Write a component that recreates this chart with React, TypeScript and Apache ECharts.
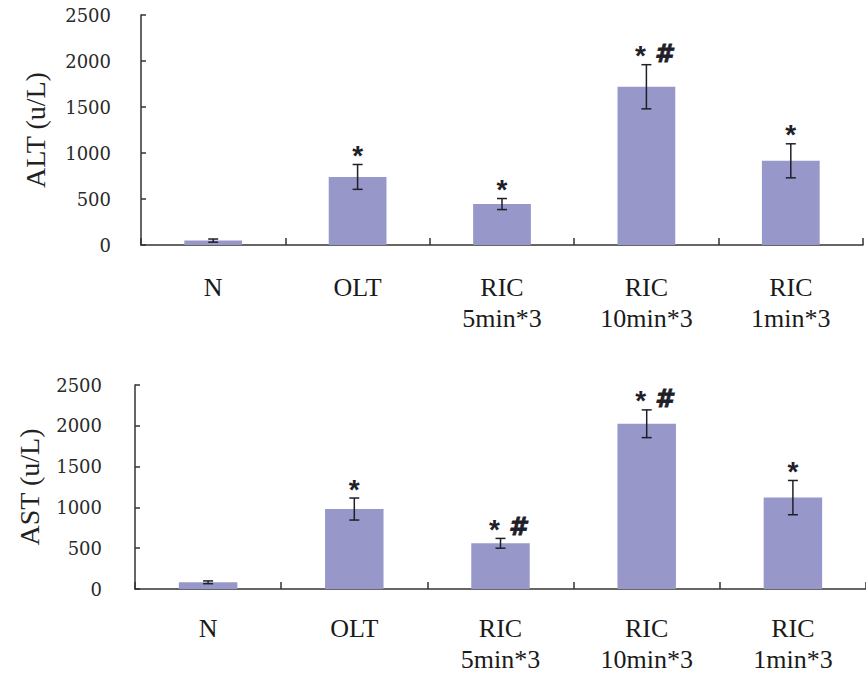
import React, { useEffect, useRef } from "react";
import * as echarts from "echarts";

const categories = ["N", "OLT", "RIC\n5min*3", "RIC\n10min*3", "RIC\n1min*3"];
const altMean = [48, 740, 445, 1720, 915];
const altErr = [17, 135, 60, 240, 185];
const astMean = [82, 980, 560, 2025, 1120];
const astErr = [17, 135, 60, 170, 210];
const altMarks = ["", "*", "*", "*#", "*"];
const astMarks = ["", "*", "*#", "*#", "*"];
const yTicks = [0, 500, 1000, 1500, 2000, 2500];

const BAR_COLOR = "#9797C9";
const INK = "#1f1f2a";

function errorSeries(means: number[], errs: number[], idx: number) {
  return {
    type: "custom",
    xAxisIndex: idx,
    yAxisIndex: idx,
    z: 5,
    data: means.map((m, i) => [i, m, errs[i]]),
    renderItem: (params: any, api: any) => {
      const i = api.value(0);
      const m = api.value(1);
      const e = api.value(2);
      const top = api.coord([i, m + e]);
      const bot = api.coord([i, m - e]);
      const hw = 5;
      const st = { stroke: INK, lineWidth: 1.5 };
      return {
        type: "group",
        children: [
          { type: "line", shape: { x1: top[0], y1: top[1], x2: bot[0], y2: bot[1] }, style: st },
          { type: "line", shape: { x1: top[0] - hw, y1: top[1], x2: top[0] + hw, y2: top[1] }, style: st },
          { type: "line", shape: { x1: bot[0] - hw, y1: bot[1], x2: bot[0] + hw, y2: bot[1] }, style: st },
        ],
      };
    },
  };
}

function markSeries(means: number[], errs: number[], marks: string[], idx: number) {
  return {
    type: "custom",
    xAxisIndex: idx,
    yAxisIndex: idx,
    z: 6,
    data: means.map((m, i) => [i, m + errs[i]]),
    renderItem: (params: any, api: any) => {
      const i = api.value(0);
      const v = api.value(1);
      const p = api.coord([i, v]);
      const mk = marks[params.dataIndex] || "";
      const children: any[] = [];
      const hasHash = mk.indexOf("#") >= 0;
      if (mk.indexOf("*") >= 0) {
        children.push({
          type: "text",
          x: p[0] + (hasHash ? -6 : 0),
          y: p[1] + 5,
          style: {
            text: "*",
            fontSize: 28,
            fontWeight: "bold",
            fontFamily: "Liberation Sans, Arial, sans-serif",
            fill: INK,
            align: "center",
            verticalAlign: "bottom",
          },
        });
      }
      if (hasHash) {
        children.push({
          type: "text",
          x: p[0] + 17,
          y: p[1] + 1,
          style: {
            text: "#",
            fontSize: 25,
            fontWeight: "bold",
            fontStyle: "italic",
            fontFamily: "DejaVu Sans, sans-serif",
            fill: INK,
            stroke: INK,
            lineWidth: 0.8,
            align: "center",
            verticalAlign: "bottom",
          },
        });
      }
      return { type: "group", children };
    },
  };
}

function yAxisDef(idx: number, name: string, margin: number) {
  return {
    type: "value",
    gridIndex: idx,
    min: 0,
    max: 2500,
    interval: 500,
    name,
    nameLocation: "middle",
    nameGap: 92,
    nameRotate: 90,
    nameTextStyle: { fontFamily: "Liberation Serif, Times New Roman, serif", fontSize: 28, color: "#222" },
    axisLine: { show: true, lineStyle: { color: "#333", width: 1.5 } },
    axisTick: { show: true, inside: true, length: 5, lineStyle: { color: "#333", width: 1.5 } },
    axisLabel: {
      margin,
      fontFamily: "DejaVu Serif, serif",
      fontSize: 18,
      color: "#2a2a2a",
      formatter: (v: number) => (yTicks.indexOf(v) >= 0 ? String(v) : ""),
    },
    splitLine: { show: false },
  };
}

function xAxisDef(idx: number, margin: number) {
  return {
    type: "category",
    gridIndex: idx,
    data: categories,
    axisLine: { show: true, lineStyle: { color: "#333", width: 1.5 } },
    axisTick: { show: true, inside: true, length: 7, lineStyle: { color: "#333", width: 1.5 } },
    axisLabel: {
      margin,
      interval: 0,
      fontFamily: "Liberation Serif, Times New Roman, serif",
      fontSize: 26,
      lineHeight: 31,
      color: "#1a1a1a",
    },
  };
}

export default function App() {
  const ref = useRef<HTMLDivElement>(null);
  useEffect(() => {
    if (!ref.current) return;
    const chart = echarts.init(ref.current, undefined, { renderer: "svg" });
    chart.setOption({
      animation: false,
      backgroundColor: "#ffffff",
      grid: [
        { left: 141, top: 15, width: 722, height: 230 },
        { left: 135, top: 385, width: 731, height: 213 },
      ],
      xAxis: [xAxisDef(0, 27), xAxisDef(1, 24)],
      yAxis: [yAxisDef(0, "ALT (u/L)", 30), yAxisDef(1, "AST (u/L)", 33)],
      series: [
        {
          type: "bar",
          xAxisIndex: 0,
          yAxisIndex: 0,
          data: altMean,
          barWidth: "40%",
          itemStyle: { color: BAR_COLOR },
        },
        errorSeries(altMean, altErr, 0),
        markSeries(altMean, altErr, altMarks, 0),
        {
          type: "bar",
          xAxisIndex: 1,
          yAxisIndex: 1,
          data: astMean,
          barWidth: "40%",
          itemStyle: { color: BAR_COLOR },
        },
        errorSeries(astMean, astErr, 1),
        markSeries(astMean, astErr, astMarks, 1),
      ],
    });
    return () => chart.dispose();
  }, []);
  return (
    <div
      ref={ref}
      style={{ position: "absolute", left: 0, top: 0, width: 866, height: 675, background: "#fff" }}
    />
  );
}
